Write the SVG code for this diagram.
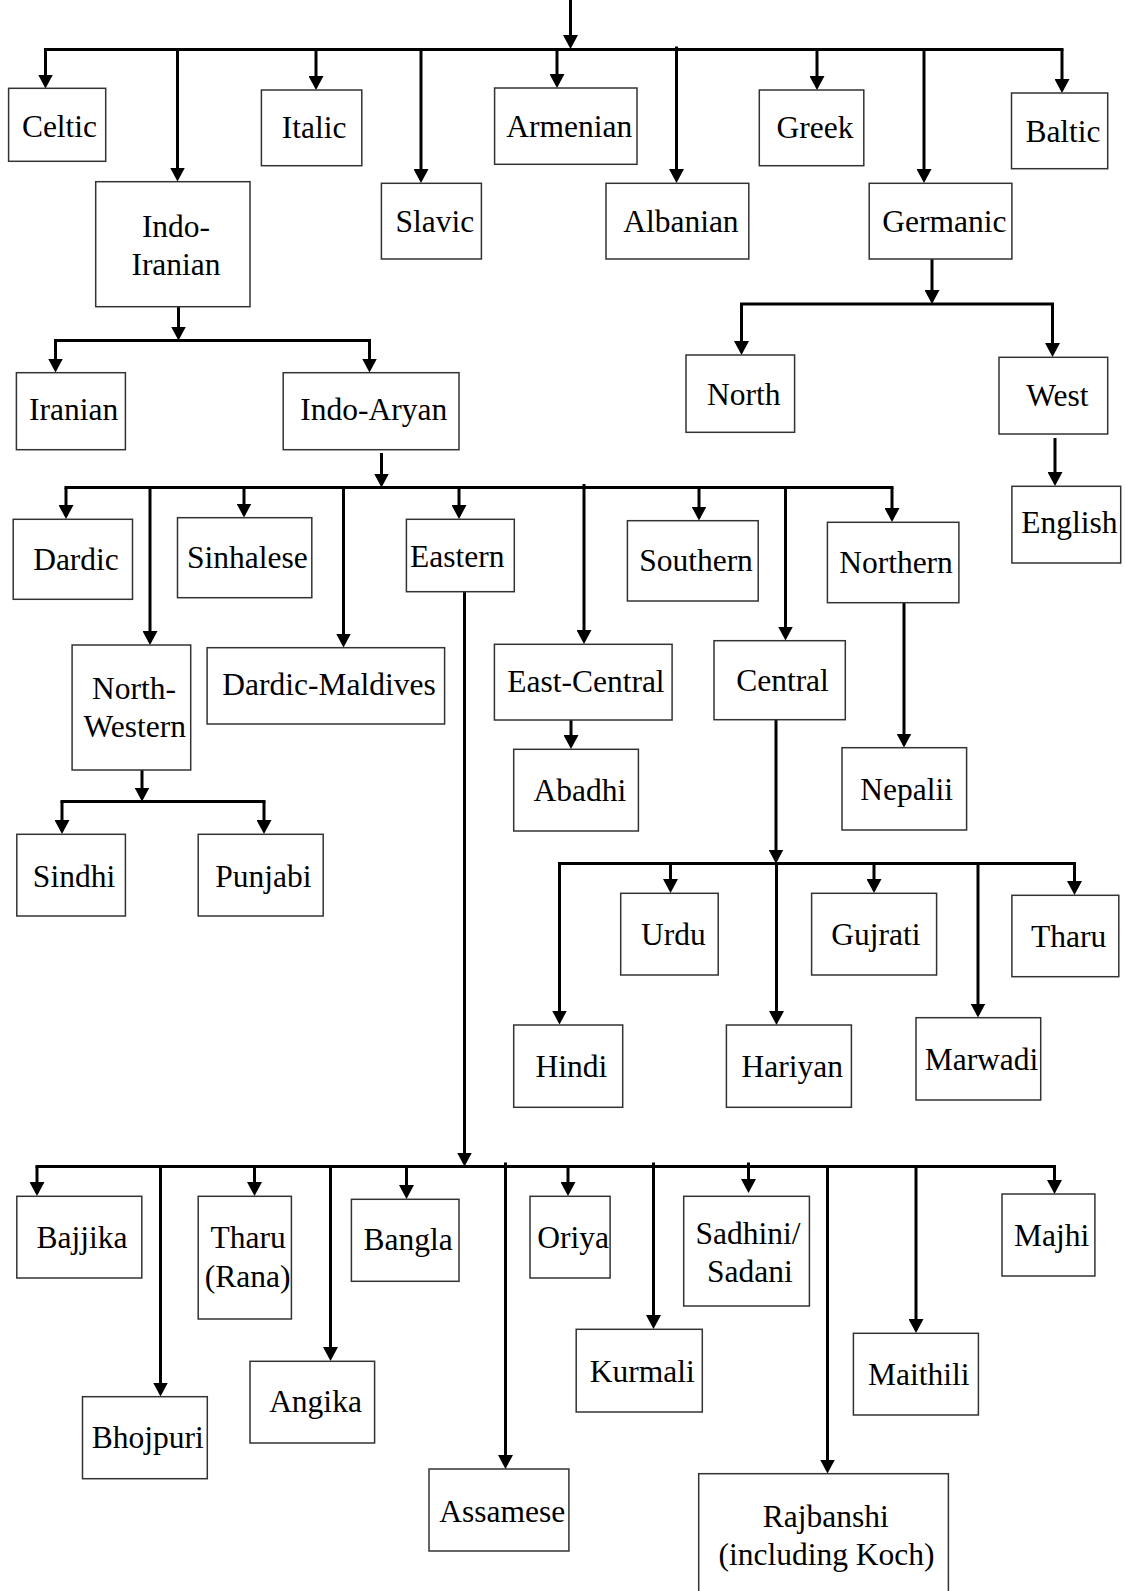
<svg xmlns="http://www.w3.org/2000/svg" width="1125" height="1591" viewBox="0 0 1125 1591">
<style>
.box{fill:#fff;stroke:#333;stroke-width:1.5}
.t{font-family:"Liberation Serif","Times New Roman",serif;font-size:31.5px;text-anchor:middle;fill:#000}
.c{stroke:#000;stroke-width:3;fill:none}
.a{stroke:#000;stroke-width:3;fill:none;marker-end:url(#ah)}
</style>
<defs>
<marker id="ah" viewBox="0 0 14 15" refX="11" refY="7.5" markerWidth="14" markerHeight="15" markerUnits="userSpaceOnUse" orient="auto"><path d="M0,0 L14,7.5 L0,15 z" fill="#000"/></marker>
</defs>
<rect width="1125" height="1591" fill="#fff"/>
<g id="connectors">
<!-- top level -->
<line class="a" x1="570.5" y1="0" x2="570.5" y2="46"/>
<line class="c" x1="44" y1="49.5" x2="1063.5" y2="49.5"/>
<line class="a" x1="45.5" y1="49.5" x2="45.5" y2="85.5"/>
<line class="a" x1="177.5" y1="49.5" x2="177.5" y2="178.5"/>
<line class="a" x1="316" y1="49.5" x2="316" y2="87"/>
<line class="a" x1="421" y1="49.5" x2="421" y2="180"/>
<line class="a" x1="557" y1="49.5" x2="557" y2="85"/>
<line class="a" x1="676.5" y1="46.5" x2="676.5" y2="180"/>
<line class="a" x1="817" y1="49.5" x2="817" y2="87"/>
<line class="a" x1="924" y1="49.5" x2="924" y2="180"/>
<line class="a" x1="1062" y1="49.5" x2="1062" y2="90"/>
<!-- Indo-Iranian -->
<line class="a" x1="178.5" y1="307" x2="178.5" y2="337.5"/>
<line class="c" x1="54" y1="340.5" x2="371" y2="340.5"/>
<line class="a" x1="55.5" y1="340.5" x2="55.5" y2="369.5"/>
<line class="a" x1="369.5" y1="340.5" x2="369.5" y2="369.5"/>
<!-- Germanic -->
<line class="a" x1="932" y1="259" x2="932" y2="301"/>
<line class="c" x1="740" y1="304" x2="1054" y2="304"/>
<line class="a" x1="741.5" y1="304" x2="741.5" y2="352"/>
<line class="a" x1="1052.5" y1="304" x2="1052.5" y2="354"/>
<line class="a" x1="1055" y1="438" x2="1055" y2="483"/>
<!-- Indo-Aryan -->
<line class="a" x1="381.5" y1="453" x2="381.5" y2="484.5"/>
<line class="c" x1="64.5" y1="487.5" x2="893.5" y2="487.5"/>
<line class="a" x1="66" y1="487.5" x2="66" y2="516"/>
<line class="a" x1="150" y1="487.5" x2="150" y2="642"/>
<line class="a" x1="244" y1="487.5" x2="244" y2="514.5"/>
<line class="a" x1="343.5" y1="487.5" x2="343.5" y2="644.5"/>
<line class="a" x1="459" y1="487.5" x2="459" y2="516"/>
<line class="a" x1="584" y1="484" x2="584" y2="641"/>
<line class="a" x1="699" y1="487.5" x2="699" y2="517.5"/>
<line class="a" x1="785.5" y1="487.5" x2="785.5" y2="637.5"/>
<line class="a" x1="892" y1="487.5" x2="892" y2="519"/>
<!-- Northern / East-Central / Central -->
<line class="a" x1="904" y1="603" x2="904" y2="744.5"/>
<line class="a" x1="571" y1="720" x2="571" y2="746"/>
<line class="a" x1="776" y1="720" x2="776" y2="860.5"/>
<line class="c" x1="558" y1="863.5" x2="1076" y2="863.5"/>
<line class="a" x1="559.5" y1="863.5" x2="559.5" y2="1021.5"/>
<line class="a" x1="670.5" y1="863.5" x2="670.5" y2="890"/>
<line class="a" x1="776.5" y1="863.5" x2="776.5" y2="1022"/>
<line class="a" x1="874" y1="863.5" x2="874" y2="890"/>
<line class="a" x1="978" y1="863.5" x2="978" y2="1014.5"/>
<line class="a" x1="1074.5" y1="863.5" x2="1074.5" y2="892"/>
<!-- North-Western -->
<line class="a" x1="142" y1="770" x2="142" y2="798.5"/>
<line class="c" x1="60.5" y1="801.5" x2="265.5" y2="801.5"/>
<line class="a" x1="62" y1="801.5" x2="62" y2="831"/>
<line class="a" x1="264" y1="801.5" x2="264" y2="831"/>
<!-- Eastern -->
<line class="a" x1="464.5" y1="592" x2="464.5" y2="1163.5"/>
<line class="c" x1="35.5" y1="1166.5" x2="1056" y2="1166.5"/>
<line class="a" x1="37" y1="1166.5" x2="37" y2="1193"/>
<line class="a" x1="160.5" y1="1166.5" x2="160.5" y2="1393.5"/>
<line class="a" x1="254.5" y1="1166.5" x2="254.5" y2="1193"/>
<line class="a" x1="330.5" y1="1166.5" x2="330.5" y2="1358"/>
<line class="a" x1="406.5" y1="1166.5" x2="406.5" y2="1196"/>
<line class="a" x1="505.5" y1="1162.5" x2="505.5" y2="1466"/>
<line class="a" x1="568" y1="1166.5" x2="568" y2="1193"/>
<line class="a" x1="653.5" y1="1162.5" x2="653.5" y2="1326"/>
<line class="a" x1="748.5" y1="1162.5" x2="748.5" y2="1190"/>
<line class="a" x1="827.5" y1="1166.5" x2="827.5" y2="1470.5"/>
<line class="a" x1="916" y1="1166.5" x2="916" y2="1330"/>
<line class="a" x1="1054.5" y1="1166.5" x2="1054.5" y2="1191"/>
</g>
<g id="celtic"><rect class="box" x="8.6" y="88.3" width="97.1" height="73"/><text class="t" x="59.5" y="137">Celtic</text></g>
<g id="indo-iranian"><rect class="box" x="95.7" y="181.7" width="154.3" height="125"/><text class="t" x="176" y="237">Indo-</text><text class="t" x="176" y="275">Iranian</text></g>
<g id="italic"><rect class="box" x="261.4" y="90" width="100.4" height="75.7"/><text class="t" x="314.2" y="138">Italic</text></g>
<g id="slavic"><rect class="box" x="381.4" y="183.3" width="100" height="75.7"/><text class="t" x="434.8" y="231.7">Slavic</text></g>
<g id="armenian"><rect class="box" x="494.6" y="88" width="142.4" height="76.3"/><text class="t" x="569.2" y="136.5">Armenian</text></g>
<g id="albanian"><rect class="box" x="606" y="183.3" width="142.8" height="75.7"/><text class="t" x="680.9" y="231.7">Albanian</text></g>
<g id="greek"><rect class="box" x="759.3" y="90" width="104.5" height="75.7"/><text class="t" x="815" y="138">Greek</text></g>
<g id="germanic"><rect class="box" x="869.2" y="183.3" width="142.7" height="75.7"/><text class="t" x="944.3" y="231.7">Germanic</text></g>
<g id="baltic"><rect class="box" x="1011.5" y="93" width="96.2" height="75.7"/><text class="t" x="1063" y="141.7">Baltic</text></g>
<g id="iranian"><rect class="box" x="16.4" y="372.7" width="109" height="77"/><text class="t" x="73.6" y="420">Iranian</text></g>
<g id="indo-aryan"><rect class="box" x="283.2" y="372.7" width="175.8" height="77"/><text class="t" x="373.8" y="420">Indo-Aryan</text></g>
<g id="north"><rect class="box" x="686" y="355" width="108.6" height="77.3"/><text class="t" x="743.8" y="405">North</text></g>
<g id="west"><rect class="box" x="999" y="357.3" width="108.7" height="76.7"/><text class="t" x="1057.3" y="406">West</text></g>
<g id="english"><rect class="box" x="1011.9" y="486.3" width="108.8" height="76.7"/><text class="t" x="1069.5" y="533.3">English</text></g>
<g id="dardic"><rect class="box" x="13.2" y="519.3" width="119.3" height="80"/><text class="t" x="76" y="570">Dardic</text></g>
<g id="sinhalese"><rect class="box" x="177.5" y="517.7" width="134.3" height="80"/><text class="t" x="247.3" y="568.3">Sinhalese</text></g>
<g id="eastern"><rect class="box" x="406.4" y="519.3" width="107.9" height="72.4"/><text class="t" x="457.3" y="566.7">Eastern</text></g>
<g id="southern"><rect class="box" x="627.4" y="520.7" width="130.8" height="80.3"/><text class="t" x="696" y="570.7">Southern</text></g>
<g id="northern"><rect class="box" x="827.4" y="522.3" width="131.5" height="80.4"/><text class="t" x="896" y="573.3">Northern</text></g>
<g id="north-western"><rect class="box" x="72.1" y="645" width="118.6" height="125"/><text class="t" x="134" y="699">North-</text><text class="t" x="134.8" y="736.7">Western</text></g>
<g id="dardic-maldives"><rect class="box" x="207.1" y="647.7" width="237.5" height="76.3"/><text class="t" x="329" y="695">Dardic-Maldives</text></g>
<g id="sindhi"><rect class="box" x="16.8" y="834.3" width="108.6" height="81.7"/><text class="t" x="74" y="886.7">Sindhi</text></g>
<g id="punjabi"><rect class="box" x="198.2" y="834.3" width="125" height="81.7"/><text class="t" x="263.4" y="886.7">Punjabi</text></g>
<g id="east-central"><rect class="box" x="494.4" y="644.3" width="177.7" height="75.7"/><text class="t" x="585.9" y="691.7">East-Central</text></g>
<g id="abadhi"><rect class="box" x="513.7" y="749.3" width="124.7" height="81.7"/><text class="t" x="579.8" y="801">Abadhi</text></g>
<g id="central"><rect class="box" x="714" y="640.7" width="131.3" height="79"/><text class="t" x="782.5" y="691">Central</text></g>
<g id="nepalii"><rect class="box" x="842" y="747.7" width="124.6" height="82.3"/><text class="t" x="906.7" y="800">Nepalii</text></g>
<g id="urdu"><rect class="box" x="620.7" y="893.3" width="97.5" height="81.7"/><text class="t" x="673.4" y="945">Urdu</text></g>
<g id="gujrati"><rect class="box" x="811.6" y="893.3" width="125" height="81.7"/><text class="t" x="875.9" y="945">Gujrati</text></g>
<g id="tharu"><rect class="box" x="1011.9" y="895.3" width="106.9" height="81.4"/><text class="t" x="1068.6" y="946.7">Tharu</text></g>
<g id="hindi"><rect class="box" x="513.7" y="1025" width="109" height="82.3"/><text class="t" x="571.5" y="1076.7">Hindi</text></g>
<g id="hariyan"><rect class="box" x="726.4" y="1025" width="125" height="82.3"/><text class="t" x="792.2" y="1076.7">Hariyan</text></g>
<g id="marwadi"><rect class="box" x="916" y="1017.7" width="124.7" height="82.3"/><text class="t" x="981.5" y="1070">Marwadi</text></g>
<g id="bajjika"><rect class="box" x="16.8" y="1196.3" width="125" height="81.7"/><text class="t" x="82.1" y="1248.3">Bajjika</text></g>
<g id="tharu-rana"><rect class="box" x="198.2" y="1196.3" width="93.2" height="122.7"/><text class="t" x="248.2" y="1248">Tharu</text><text class="t" x="247.7" y="1287">(Rana)</text></g>
<g id="bangla"><rect class="box" x="351.4" y="1199.3" width="107.6" height="82"/><text class="t" x="408.2" y="1250">Bangla</text></g>
<g id="oriya"><rect class="box" x="530" y="1196.3" width="80.1" height="81.7"/><text class="t" x="573.1" y="1248">Oriya</text></g>
<g id="sadhini"><rect class="box" x="683.7" y="1196.3" width="125.7" height="109.7"/><text class="t" x="747.9" y="1244">Sadhini/</text><text class="t" x="749.9" y="1281.7">Sadani</text></g>
<g id="majhi"><rect class="box" x="1002" y="1194" width="92.9" height="82"/><text class="t" x="1051.6" y="1246">Majhi</text></g>
<g id="angika"><rect class="box" x="250" y="1361.3" width="124.6" height="81.7"/><text class="t" x="315.5" y="1411.7">Angika</text></g>
<g id="kurmali"><rect class="box" x="576.2" y="1329.3" width="126.1" height="82.7"/><text class="t" x="642.3" y="1381.7">Kurmali</text></g>
<g id="maithili"><rect class="box" x="853.4" y="1333.3" width="125" height="81.7"/><text class="t" x="918.8" y="1385">Maithili</text></g>
<g id="bhojpuri"><rect class="box" x="82.5" y="1396.7" width="124.8" height="82"/><text class="t" x="147.8" y="1448.3">Bhojpuri</text></g>
<g id="assamese"><rect class="box" x="429" y="1469" width="139.9" height="82"/><text class="t" x="502.2" y="1521.7">Assamese</text></g>
<g id="rajbanshi"><rect class="box" x="698.7" y="1473.7" width="249.7" height="130"/><text class="t" x="825.7" y="1526.7">Rajbanshi</text><text class="t" x="826.5" y="1565">(including Koch)</text></g>
</svg>
